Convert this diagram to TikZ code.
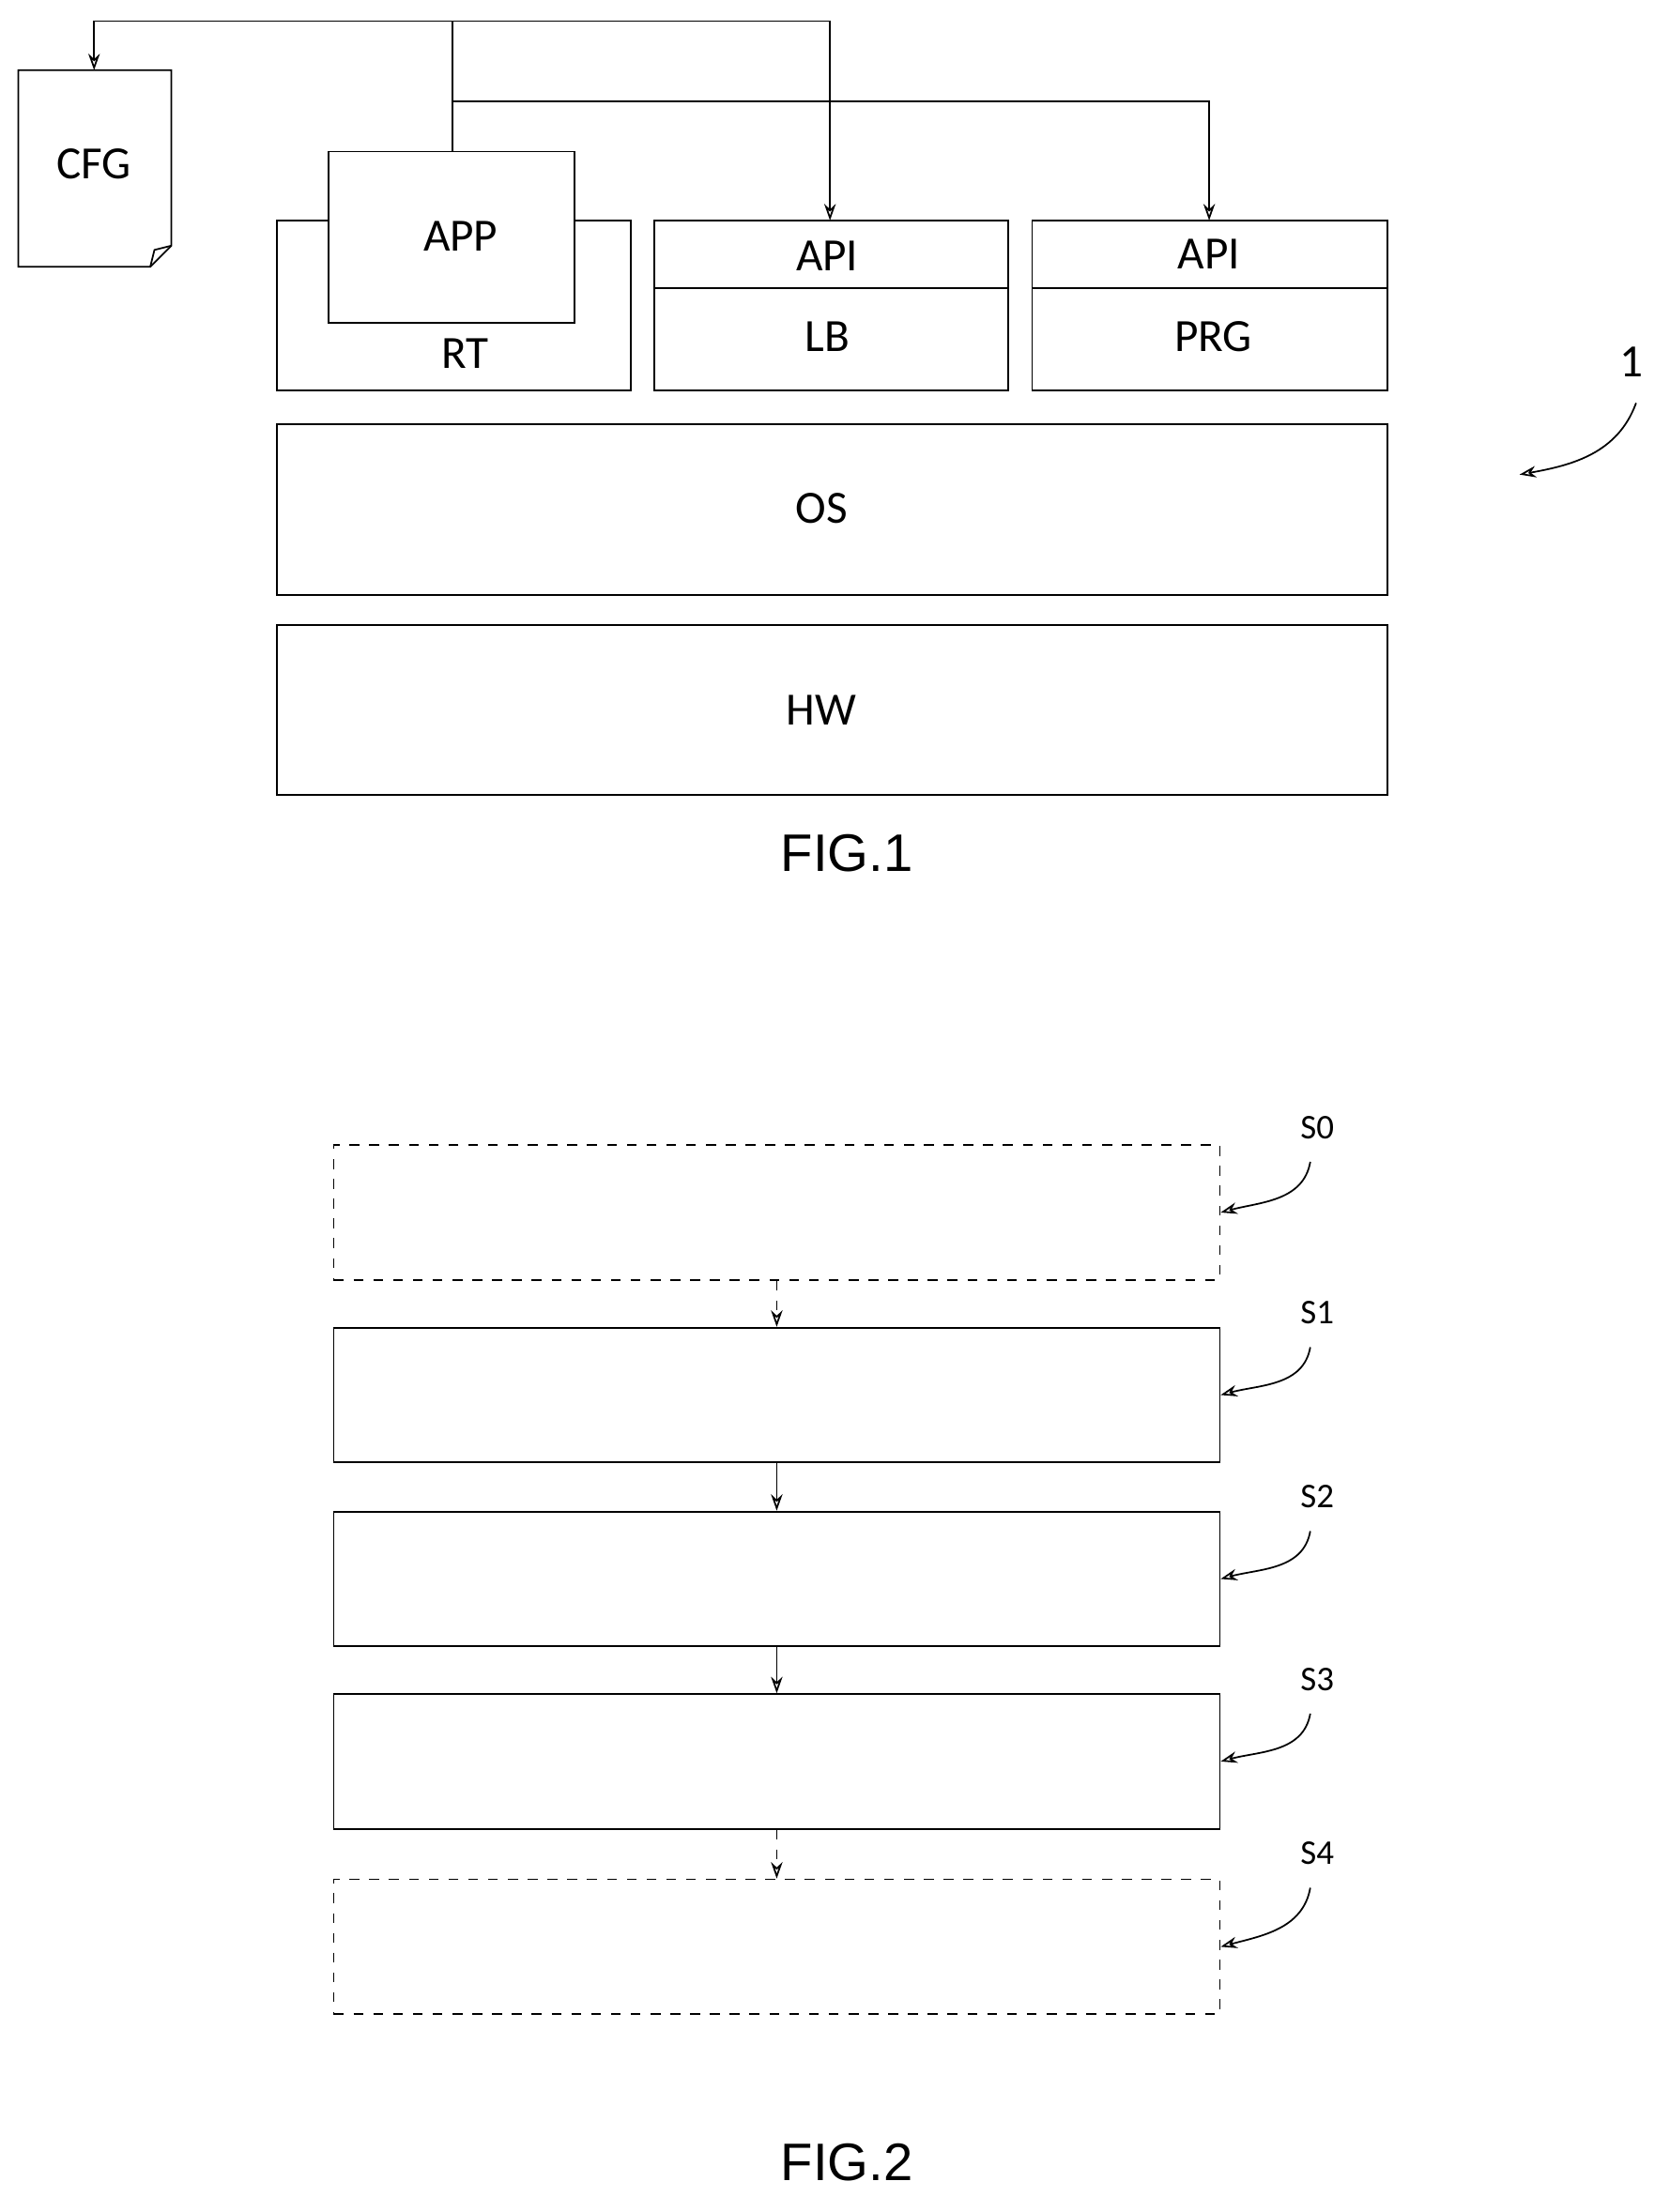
\documentclass[tikz,border=0pt]{standalone}
\usepackage{fontspec}
\setmainfont{Carlito}
\newfontfamily\figfont{Liberation Sans}
\usetikzlibrary{arrows.meta}
\begin{document}
\begin{tikzpicture}[x=0.01496cm,y=-0.01496cm,line width=0.5pt,
  lbl/.style={font=\fontsize{14}{14}\selectfont},
  slbl/.style={font=\fontsize{10.5}{10.5}\selectfont},
  arr/.style={-{Stealth[length=5pt,width=3.5pt,open]}},
  stepbox/.style={draw,minimum width=631*0.01496cm,minimum height=96*0.01496cm,anchor=north west,inner sep=0}]
      \useasboundingbox (0,0) rectangle (1189,1575.5);
      % FIG.1
      \draw (13,50) -- (122,50) -- (122,175) -- (107,190) -- (13,190) -- cycle;
      \draw (122,175) -- (110,178) -- (107,190);
      \node[lbl] (cfg) at (67,117){CFG};
      \coordinate (cfgtop) at (67,50);
      \draw (197,157) rectangle (449,278);
      \node[lbl] (rt) at (331,252){RT};
      \draw[fill=white] (234,108) rectangle (409,230);
      \node[lbl] (app) at (328,168){APP};
      \coordinate (apptop) at (322,108);
      \draw (466,157) rectangle (718,278); \draw (466,205) -- (718,205);
      \node[lbl] (apia) at (589,182){API};
      \node[lbl] (lb) at (589,240){LB};
      \coordinate (apiatop) at (591,157);
      \draw (735,157) rectangle (988,278); \draw (735,205) -- (988,205);
      \node[lbl] (apib) at (861,181){API};
      \node[lbl] (prg) at (864,240){PRG};
      \coordinate (apibtop) at (861,157);
      \draw (197,302) rectangle (988,424);
      \node[lbl] (os) at (585,362){OS};
      \draw (197,445) rectangle (988,566);
      \node[lbl] (hw) at (585,506){HW};
      \draw (apptop) -- (322,15);
      \draw[arr] (322,15) -| (cfgtop);
      \draw[arr] (322,15) -| (apiatop);
      \draw[arr] (322,72) -| (apibtop);
      \node[lbl] (one) at (1162,258){1};
      \draw[arr] (1165,287) to[out=-110,in=10] (1082,338);
      \node[font=\figfont\fontsize{16}{16}\selectfont] (fig1) at (603,608){FIG.1};
      % FIG.2
      \node[stepbox,dashed] (s0) at (237,815){};
      \node[stepbox] (s1) at (237,945){};
      \node[stepbox] (s2) at (237,1076){};
      \node[stepbox] (s3) at (237,1206){};
      \node[stepbox,dashed] (s4) at (237,1338){};
      \draw[arr,dashed] (s0.south) -- (s1.north);
      \draw[arr] (s1.south) -- (s2.north);
      \draw[arr] (s2.south) -- (s3.north);
      \draw[arr,dashed] (s3.south) -- (s4.north);
      \foreach \n/\y in {0/803,1/935,2/1066,3/1196,4/1320}{
        \node[slbl] (l\n) at (938,\y){S\n};
        \draw[arr] (l\n.south) ++(-5,8) to[out=-100,in=15] (s\n.east);
      }
      \node[font=\figfont\fontsize{16}{16}\selectfont] (fig2) at (603,1540){FIG.2};
    \end{tikzpicture}
\end{document}
